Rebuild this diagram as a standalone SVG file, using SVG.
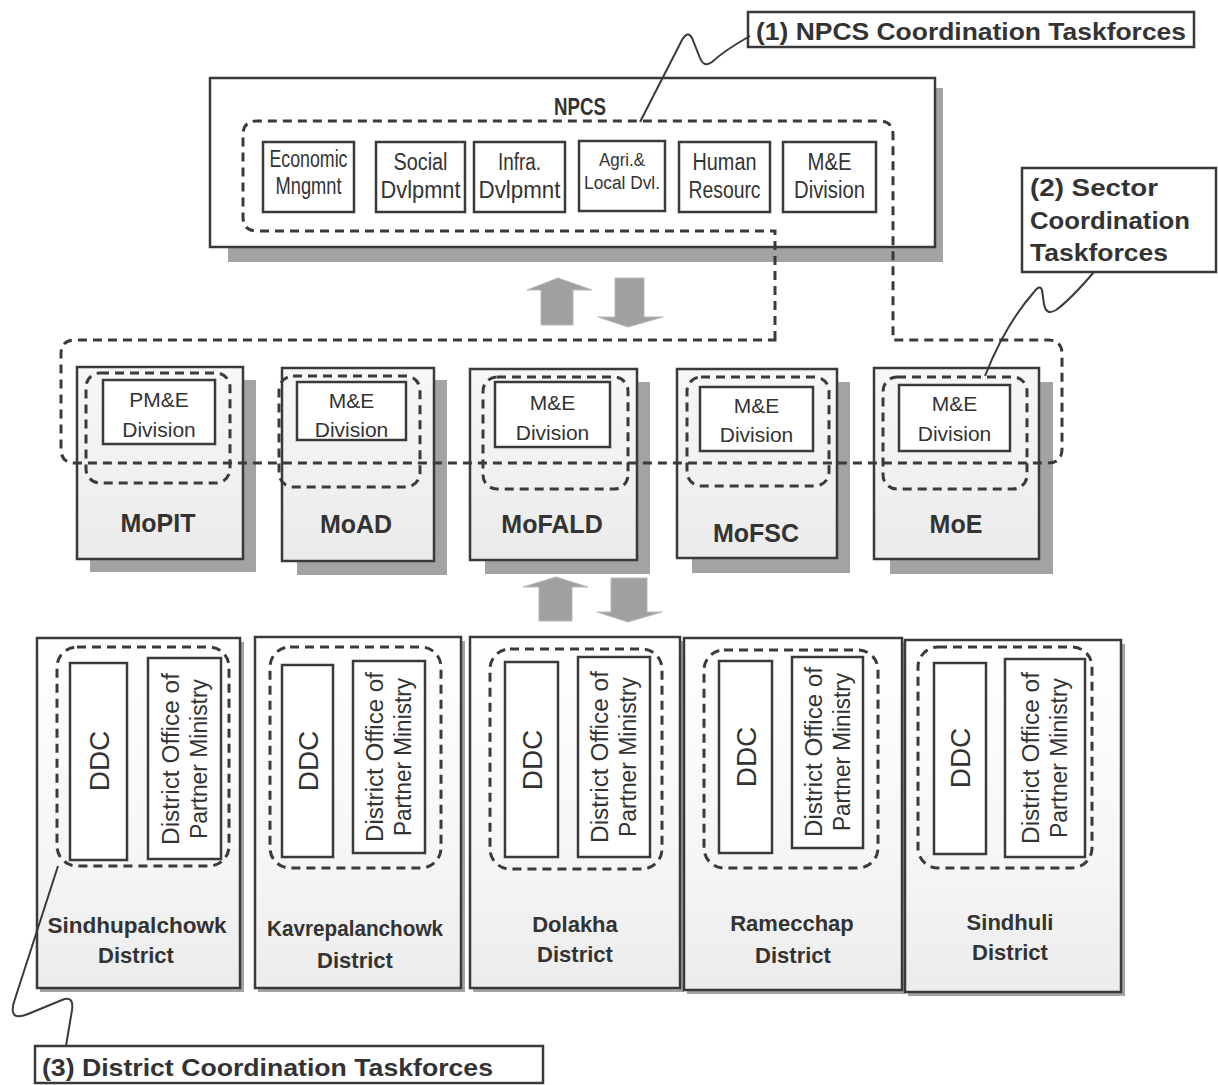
<svg xmlns="http://www.w3.org/2000/svg" width="1218" height="1085" viewBox="0 0 1218 1085">
<style>
.box{fill:#fff;stroke:#3a3a3a;stroke-width:2.5}
.min{fill:url(#mg);stroke:#3a3a3a;stroke-width:2.5}
.dist{fill:url(#dg);stroke:#3a3a3a;stroke-width:2.5}
.sh{fill:#a3a3a3}
.dash{fill:none;stroke:#3a3a3a;stroke-width:3;stroke-dasharray:9 6}
.call{fill:none;stroke:#3a3a3a;stroke-width:2}
.blk{fill:#a0a0a0;stroke:#b8b8b8;stroke-width:1}
text{font-family:"Liberation Sans",Arial,sans-serif;fill:#333;text-anchor:middle}
.sub{font-size:23px}
.mi{font-size:21px}
.ml{font-size:25px;font-weight:bold}
.dl{font-size:22px;font-weight:bold}
.ddc{font-size:28px}
.dof{font-size:23px}
.ct{font-size:24px;font-weight:bold;text-anchor:start}
</style>
<defs>
<linearGradient id="mg" x1="0" y1="0" x2="0" y2="1">
<stop offset="0" stop-color="#f7f7f7"/><stop offset="1" stop-color="#ebebeb"/>
</linearGradient>
<linearGradient id="dg" x1="0" y1="0" x2="0" y2="1">
<stop offset="0" stop-color="#ffffff"/><stop offset="0.6" stop-color="#f6f6f6"/><stop offset="1" stop-color="#ececec"/>
</linearGradient>
</defs>
<rect width="1218" height="1085" fill="#fff"/>

<g id="npcs">
<rect class="sh" x="935" y="88" width="8" height="174"/>
<rect class="sh" x="228" y="247" width="715" height="15"/>
<rect class="box" x="210" y="78" width="725" height="169"/>
<text x="580" y="115" font-size="24" font-weight="bold" textLength="52" lengthAdjust="spacingAndGlyphs">NPCS</text>
</g>
<g id="npcs-econ">
<rect class="box" x="263" y="142" width="91" height="70"/>
<text class="sub" x="308.5" y="167" textLength="78" lengthAdjust="spacingAndGlyphs">Economic</text>
<text class="sub" x="308.5" y="194" textLength="66" lengthAdjust="spacingAndGlyphs">Mngmnt</text>
</g>
<g id="npcs-social">
<rect class="box" x="376" y="142" width="89" height="70"/>
<text class="sub" x="420.5" y="170" textLength="54" lengthAdjust="spacingAndGlyphs">Social</text>
<text class="sub" x="420.5" y="198" textLength="80" lengthAdjust="spacingAndGlyphs">Dvlpmnt</text>
</g>
<g id="npcs-infra">
<rect class="box" x="474" y="142" width="91" height="70"/>
<text class="sub" x="519.5" y="170" textLength="43" lengthAdjust="spacingAndGlyphs">Infra.</text>
<text class="sub" x="519.5" y="198" textLength="82" lengthAdjust="spacingAndGlyphs">Dvlpmnt</text>
</g>
<g id="npcs-agri">
<rect class="box" x="579" y="141" width="86" height="70"/>
<text x="622" y="166" font-size="18" textLength="46" lengthAdjust="spacingAndGlyphs">Agri.&amp;</text>
<text x="622" y="189" font-size="18" textLength="76" lengthAdjust="spacingAndGlyphs">Local Dvl.</text>
</g>
<g id="npcs-human">
<rect class="box" x="679" y="142" width="91" height="70"/>
<text class="sub" x="724.5" y="170" textLength="64" lengthAdjust="spacingAndGlyphs">Human</text>
<text class="sub" x="724.5" y="198" textLength="72" lengthAdjust="spacingAndGlyphs">Resourc</text>
</g>
<g id="npcs-me">
<rect class="box" x="783" y="142" width="93" height="70"/>
<text class="sub" x="829.5" y="170" textLength="44" lengthAdjust="spacingAndGlyphs">M&amp;E</text>
<text class="sub" x="829.5" y="198" textLength="71" lengthAdjust="spacingAndGlyphs">Division</text>
</g>

<g id="mopit">
<rect class="sh" x="242" y="380" width="14" height="192"/>
<rect class="sh" x="90" y="558" width="166" height="14"/>
<rect class="min" x="77" y="367" width="166" height="192"/>
<rect class="dash" x="86" y="373" width="144" height="110" rx="14"/>
<rect class="box" x="103" y="380" width="112" height="64"/>
<text class="mi" x="159" y="407">PM&amp;E</text>
<text class="mi" x="159" y="437">Division</text>
<text class="ml" x="158" y="532">MoPIT</text>
</g>
<g id="moad">
<rect class="sh" x="434" y="380" width="13" height="195"/>
<rect class="sh" x="297" y="561" width="150" height="14"/>
<rect class="min" x="282" y="368" width="152" height="193"/>
<rect class="dash" x="279" y="376" width="141" height="111" rx="14"/>
<rect class="box" x="297" y="382" width="109" height="58"/>
<text class="mi" x="351.5" y="408">M&amp;E</text>
<text class="mi" x="351.5" y="437">Division</text>
<text class="ml" x="356" y="533">MoAD</text>
</g>
<g id="mofald">
<rect class="sh" x="637" y="382" width="13" height="192"/>
<rect class="sh" x="485" y="560" width="165" height="14"/>
<rect class="min" x="470" y="369" width="167" height="191"/>
<rect class="dash" x="483" y="377" width="145" height="112" rx="14"/>
<rect class="box" x="495" y="382" width="115" height="65"/>
<text class="mi" x="552.5" y="410">M&amp;E</text>
<text class="mi" x="552.5" y="440">Division</text>
<text class="ml" x="552" y="533">MoFALD</text>
</g>
<g id="mofsc">
<rect class="sh" x="837" y="382" width="13" height="191"/>
<rect class="sh" x="692" y="558" width="158" height="15"/>
<rect class="min" x="677" y="369" width="160" height="189"/>
<rect class="dash" x="687" y="377" width="142" height="109" rx="14"/>
<rect class="box" x="700" y="387" width="113" height="64"/>
<text class="mi" x="756.5" y="413">M&amp;E</text>
<text class="mi" x="756.5" y="442">Division</text>
<text class="ml" x="756" y="542">MoFSC</text>
</g>
<g id="moe">
<rect class="sh" x="1039" y="382" width="14" height="192"/>
<rect class="sh" x="890" y="559" width="163" height="15"/>
<rect class="min" x="874" y="368" width="165" height="191"/>
<rect class="dash" x="883" y="377" width="144" height="112" rx="14"/>
<rect class="box" x="899" y="385" width="111" height="66"/>
<text class="mi" x="954.5" y="411">M&amp;E</text>
<text class="mi" x="954.5" y="441">Division</text>
<text class="ml" x="956" y="533">MoE</text>
</g>

<g id="sindhupalchowk">
<rect class="sh" x="240" y="642" width="4" height="350"/>
<rect class="sh" x="40" y="988" width="204" height="4"/>
<rect class="dist" x="37" y="638" width="203" height="350"/>
<rect class="dash" x="57" y="647" width="172" height="219" rx="20"/>
<rect class="box" x="70" y="663" width="57" height="197"/>
<rect class="box" x="148" y="658" width="73" height="201"/>
<text class="ddc" transform="translate(98.5,761) rotate(-90)" y="10">DDC</text>
<text class="dof" transform="translate(184.5,759) rotate(-90)" y="-6" textLength="172" lengthAdjust="spacingAndGlyphs">District Office of</text>
<text class="dof" transform="translate(184.5,759) rotate(-90)" y="22" textLength="160" lengthAdjust="spacingAndGlyphs">Partner Ministry</text>
<text class="dl" x="137" y="933" textLength="179" lengthAdjust="spacingAndGlyphs">Sindhupalchowk</text>
<text class="dl" x="136" y="963">District</text>
</g>
<g id="kavrepalanchowk">
<rect class="sh" x="461" y="641" width="4" height="351"/>
<rect class="sh" x="258" y="988" width="207" height="4"/>
<rect class="dist" x="255" y="637" width="206" height="351"/>
<rect class="dash" x="270" y="647" width="171" height="221" rx="20"/>
<rect class="box" x="282" y="665" width="51" height="192"/>
<rect class="box" x="353" y="661" width="72" height="192"/>
<text class="ddc" transform="translate(307.5,761) rotate(-90)" y="10">DDC</text>
<text class="dof" transform="translate(389,757) rotate(-90)" y="-6" textLength="170" lengthAdjust="spacingAndGlyphs">District Office of</text>
<text class="dof" transform="translate(389,757) rotate(-90)" y="22" textLength="158" lengthAdjust="spacingAndGlyphs">Partner Ministry</text>
<text class="dl" x="355" y="936" textLength="176" lengthAdjust="spacingAndGlyphs">Kavrepalanchowk</text>
<text class="dl" x="355" y="968">District</text>
</g>
<g id="dolakha">
<rect class="sh" x="680" y="641" width="4" height="351"/>
<rect class="sh" x="473" y="988" width="211" height="4"/>
<rect class="dist" x="470" y="637" width="210" height="351"/>
<rect class="dash" x="490" y="649" width="172" height="220" rx="20"/>
<rect class="box" x="505" y="662" width="53" height="195"/>
<rect class="box" x="578" y="657" width="72" height="200"/>
<text class="ddc" transform="translate(531.5,760) rotate(-90)" y="10">DDC</text>
<text class="dof" transform="translate(614,757) rotate(-90)" y="-6" textLength="172" lengthAdjust="spacingAndGlyphs">District Office of</text>
<text class="dof" transform="translate(614,757) rotate(-90)" y="22" textLength="160" lengthAdjust="spacingAndGlyphs">Partner Ministry</text>
<text class="dl" x="575" y="932">Dolakha</text>
<text class="dl" x="575" y="962">District</text>
</g>
<g id="ramecchap">
<rect class="sh" x="902" y="642" width="4" height="352"/>
<rect class="sh" x="687" y="990" width="219" height="4"/>
<rect class="dist" x="684" y="638" width="218" height="352"/>
<rect class="dash" x="704" y="650" width="174" height="218" rx="20"/>
<rect class="box" x="719" y="661" width="53" height="192"/>
<rect class="box" x="792" y="657" width="71" height="191"/>
<text class="ddc" transform="translate(745.5,757) rotate(-90)" y="10">DDC</text>
<text class="dof" transform="translate(827.5,752) rotate(-90)" y="-6" textLength="170" lengthAdjust="spacingAndGlyphs">District Office of</text>
<text class="dof" transform="translate(827.5,752) rotate(-90)" y="22" textLength="158" lengthAdjust="spacingAndGlyphs">Partner Ministry</text>
<text class="dl" x="792" y="931">Ramecchap</text>
<text class="dl" x="793" y="963">District</text>
</g>
<g id="sindhuli">
<rect class="sh" x="1121" y="644" width="4" height="352"/>
<rect class="sh" x="908" y="992" width="217" height="4"/>
<rect class="dist" x="905" y="640" width="216" height="352"/>
<rect class="dash" x="918" y="647" width="174" height="221" rx="20"/>
<rect class="box" x="934" y="663" width="52" height="191"/>
<rect class="box" x="1005" y="659" width="80" height="198"/>
<text class="ddc" transform="translate(960,758) rotate(-90)" y="10">DDC</text>
<text class="dof" transform="translate(1045,758) rotate(-90)" y="-6" textLength="172" lengthAdjust="spacingAndGlyphs">District Office of</text>
<text class="dof" transform="translate(1045,758) rotate(-90)" y="22" textLength="160" lengthAdjust="spacingAndGlyphs">Partner Ministry</text>
<text class="dl" x="1010" y="930">Sindhuli</text>
<text class="dl" x="1010" y="960">District</text>
</g>

<g id="callout1">
<rect class="box" x="748" y="12" width="446" height="35" stroke-width="2"/>
<text class="ct" x="756" y="40" textLength="430" lengthAdjust="spacingAndGlyphs">(1) NPCS Coordination Taskforces</text>
</g>
<g id="callout2">
<rect class="box" x="1022" y="168" width="194" height="104" stroke-width="2"/>
<text class="ct" x="1030" y="196" textLength="128" lengthAdjust="spacingAndGlyphs">(2) Sector</text>
<text class="ct" x="1030" y="229" textLength="160" lengthAdjust="spacingAndGlyphs">Coordination</text>
<text class="ct" x="1030" y="261" textLength="138" lengthAdjust="spacingAndGlyphs">Taskforces</text>
</g>
<g id="callout3">
<rect class="box" x="35" y="1046" width="508" height="37" stroke-width="2"/>
<text class="ct" x="42" y="1076" textLength="451" lengthAdjust="spacingAndGlyphs">(3) District Coordination Taskforces</text>
</g>

<g id="connectors">
<path class="dash" d="M775,340 L775,231 L257,231 Q243,231 243,217 L243,135 Q243,121 257,121 L879,121 Q893,121 893,135 L893,340 L1048,340 Q1062,340 1062,354 L1062,449 Q1062,463 1048,463 L75,463 Q61,463 61,449 L61,354 Q61,340 75,340 Z"/>
<path class="blk" d="M541,325 L541,290 L527,290 L558,278 L592,290 L573,290 L573,325 Z"/>
<path class="blk" d="M615,278 L644,278 L644,317 L663,317 L628,327 L598,317 L615,317 Z"/>
<path class="blk" d="M539,621 L539,587 L523,587 L556,577 L588,587 L572,587 L572,621 Z"/>
<path class="blk" d="M611,578 L647,578 L647,612 L662,612 L628,622 L597,612 L611,612 Z"/>
<path class="call" d="M750,36 Q725,50 712,62 Q704,68 700,58 L692,38 Q688,30 682,40 L640,122"/>
<path class="call" d="M1094,272 Q1070,300 1056,310 Q1046,316 1044,304 L1042,290 Q1040,284 1034,292 Q1005,325 985,376"/>
<path class="call" d="M58,866 L14,1002 Q8,1022 28,1014 L62,1000 Q74,995 72,1010 L66,1046"/>
</g>
</svg>
